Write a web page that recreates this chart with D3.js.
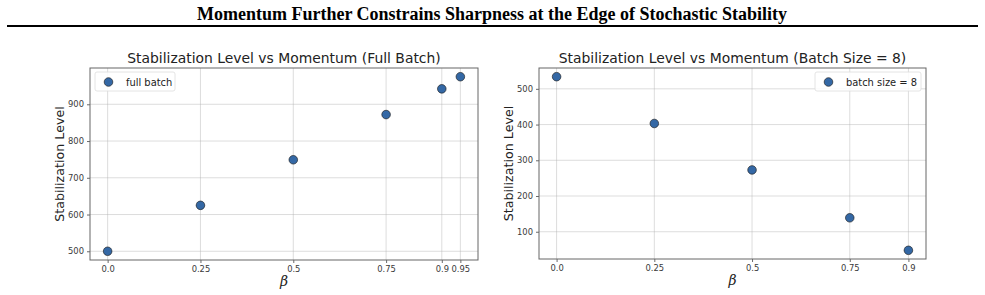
<!DOCTYPE html>
<html>
<head>
<meta charset="utf-8">
<script src="https://cdn.jsdelivr.net/npm/d3@7"></script>
<style>
  body { margin: 0; background: #fff; }
  svg { display: block; }
</style>
</head>
<body>
<div id="chart"></div>
<script>
// data
const fullBatchBeta = [0.0, 0.25, 0.5, 0.75, 0.9, 0.95];
const fullBatchLevel = [500, 625, 749, 872, 942, 975];
const fullBatchTicksX = [0.0, 0.25, 0.5, 0.75, 0.9, 0.95];
const fullBatchTicksY = [500, 600, 700, 800, 900];

const smallBatchBeta = [0.0, 0.25, 0.5, 0.75, 0.9];
const smallBatchLevel = [534, 403, 273, 139, 48];
const smallBatchTicksX = [0.0, 0.25, 0.5, 0.75, 0.9];
const smallBatchTicksY = [100, 200, 300, 400, 500];

const width = 985, height = 295;

const svg = d3.select("#chart").append("svg")
    .attr("width", width)
    .attr("height", height);

// figure header
svg.append("text")
    .attr("x", 492)
    .attr("y", 20)
    .attr("text-anchor", "middle")
    .style("font-family", "'Liberation Serif', 'Times New Roman', serif")
    .style("font-weight", "bold")
    .style("font-size", "18px")
    .text("Momentum Further Constrains Sharpness at the Edge of Stochastic Stability");

svg.append("line")
    .attr("x1", 7).attr("x2", 978)
    .attr("y1", 26).attr("y2", 26)
    .attr("stroke", "#000")
    .attr("stroke-width", 2.2);

const fmtX = d => d === 0 ? "0.0" : String(d);

function panel(opts) {
    const { left, right, top, bottom, xs, ys, ticksX, ticksY, title, legend, legendSide } = opts;

    const xMin = d3.min(xs), xMax = d3.max(xs);
    const yMin = d3.min(ys), yMax = d3.max(ys);
    const mx = (xMax - xMin) * 0.05, my = (yMax - yMin) * 0.05;

    const x = d3.scaleLinear().domain([xMin - mx, xMax + mx]).range([left, right]);
    const y = d3.scaleLinear().domain([yMin - my, yMax + my]).range([bottom, top]);

    const g = svg.append("g");

    // grid
    g.append("g").selectAll("line").data(ticksX).join("line")
        .attr("x1", d => x(d)).attr("x2", d => x(d))
        .attr("y1", top).attr("y2", bottom)
        .attr("stroke", "#b0b0b0").attr("stroke-opacity", 0.55).attr("stroke-width", 0.8);
    g.append("g").selectAll("line").data(ticksY).join("line")
        .attr("x1", left).attr("x2", right)
        .attr("y1", d => y(d)).attr("y2", d => y(d))
        .attr("stroke", "#b0b0b0").attr("stroke-opacity", 0.55).attr("stroke-width", 0.8);

    // axes
    const xAxis = g.append("g")
        .attr("transform", `translate(0,${bottom})`)
        .call(d3.axisBottom(x).tickValues(ticksX).tickFormat(fmtX).tickSize(3).tickPadding(3));
    const yAxis = g.append("g")
        .attr("transform", `translate(${left},0)`)
        .call(d3.axisLeft(y).tickValues(ticksY).tickSize(3).tickPadding(3));

    [xAxis, yAxis].forEach(a => {
        a.select(".domain").remove();
        a.selectAll(".tick line").attr("stroke", "#444").attr("stroke-width", 0.8);
        a.selectAll(".tick text")
            .attr("fill", "#3a3a3a")
            .style("font-family", "'DejaVu Sans', sans-serif")
            .style("font-size", "8.4px");
    });

    g.append("rect")
        .attr("x", left).attr("y", top)
        .attr("width", right - left).attr("height", bottom - top)
        .attr("fill", "none").attr("stroke", "#666").attr("stroke-width", 1);

    // points
    g.append("g").selectAll("circle").data(xs).join("circle")
        .attr("cx", d => x(d))
        .attr("cy", (d, i) => y(ys[i]))
        .attr("r", 4.3)
        .attr("fill", "#3468a5")
        .attr("stroke", "#1a1a1a")
        .attr("stroke-opacity", 0.8)
        .attr("stroke-width", 0.8);

    // titles
    const cx = (left + right) / 2;
    g.append("text")
        .attr("x", cx).attr("y", top - 5)
        .attr("text-anchor", "middle")
        .attr("fill", "#222")
        .style("font-family", "'DejaVu Sans', sans-serif")
        .style("font-size", "13.9px")
        .text(title);

    g.append("text")
        .attr("transform", `translate(${left - 26},${(top + bottom) / 2}) rotate(-90)`)
        .attr("text-anchor", "middle")
        .attr("fill", "#222")
        .style("font-family", "'DejaVu Sans', sans-serif")
        .style("font-size", "12.7px")
        .text("Stabilization Level");

    g.append("text")
        .attr("x", cx).attr("y", bottom + 26)
        .attr("text-anchor", "middle")
        .attr("fill", "#222")
        .style("font-family", "'DejaVu Serif', serif")
        .style("font-style", "italic")
        .style("font-size", "14px")
        .text("β");

    // legend
    const lw = legendSide === "left" ? 80 : 106;
    const lx = legendSide === "left" ? left + 5 : right - 5 - lw;
    const ly = top + 4;
    g.append("rect")
        .attr("x", lx).attr("y", ly)
        .attr("width", lw).attr("height", 19)
        .attr("rx", 2)
        .attr("fill", "#fff").attr("fill-opacity", 0.85)
        .attr("stroke", "#ddd").attr("stroke-width", 0.8);
    g.append("circle")
        .attr("cx", lx + 13.5).attr("cy", ly + 10)
        .attr("r", 4.3)
        .attr("fill", "#3468a5")
        .attr("stroke", "#1a1a1a").attr("stroke-opacity", 0.8).attr("stroke-width", 0.8);
    g.append("text")
        .attr("x", lx + 31).attr("y", ly + 13.5)
        .attr("fill", "#222")
        .style("font-family", "'DejaVu Sans', sans-serif")
        .style("font-size", "9.9px")
        .text(legend);
}

panel({
    left: 90, right: 478, top: 68, bottom: 260,
    xs: fullBatchBeta, ys: fullBatchLevel,
    ticksX: fullBatchTicksX, ticksY: fullBatchTicksY,
    title: "Stabilization Level vs Momentum (Full Batch)",
    legend: "full batch", legendSide: "left"
});

panel({
    left: 539, right: 926, top: 68, bottom: 259,
    xs: smallBatchBeta, ys: smallBatchLevel,
    ticksX: smallBatchTicksX, ticksY: smallBatchTicksY,
    title: "Stabilization Level vs Momentum (Batch Size = 8)",
    legend: "batch size = 8", legendSide: "right"
});
</script>
</body>
</html>
